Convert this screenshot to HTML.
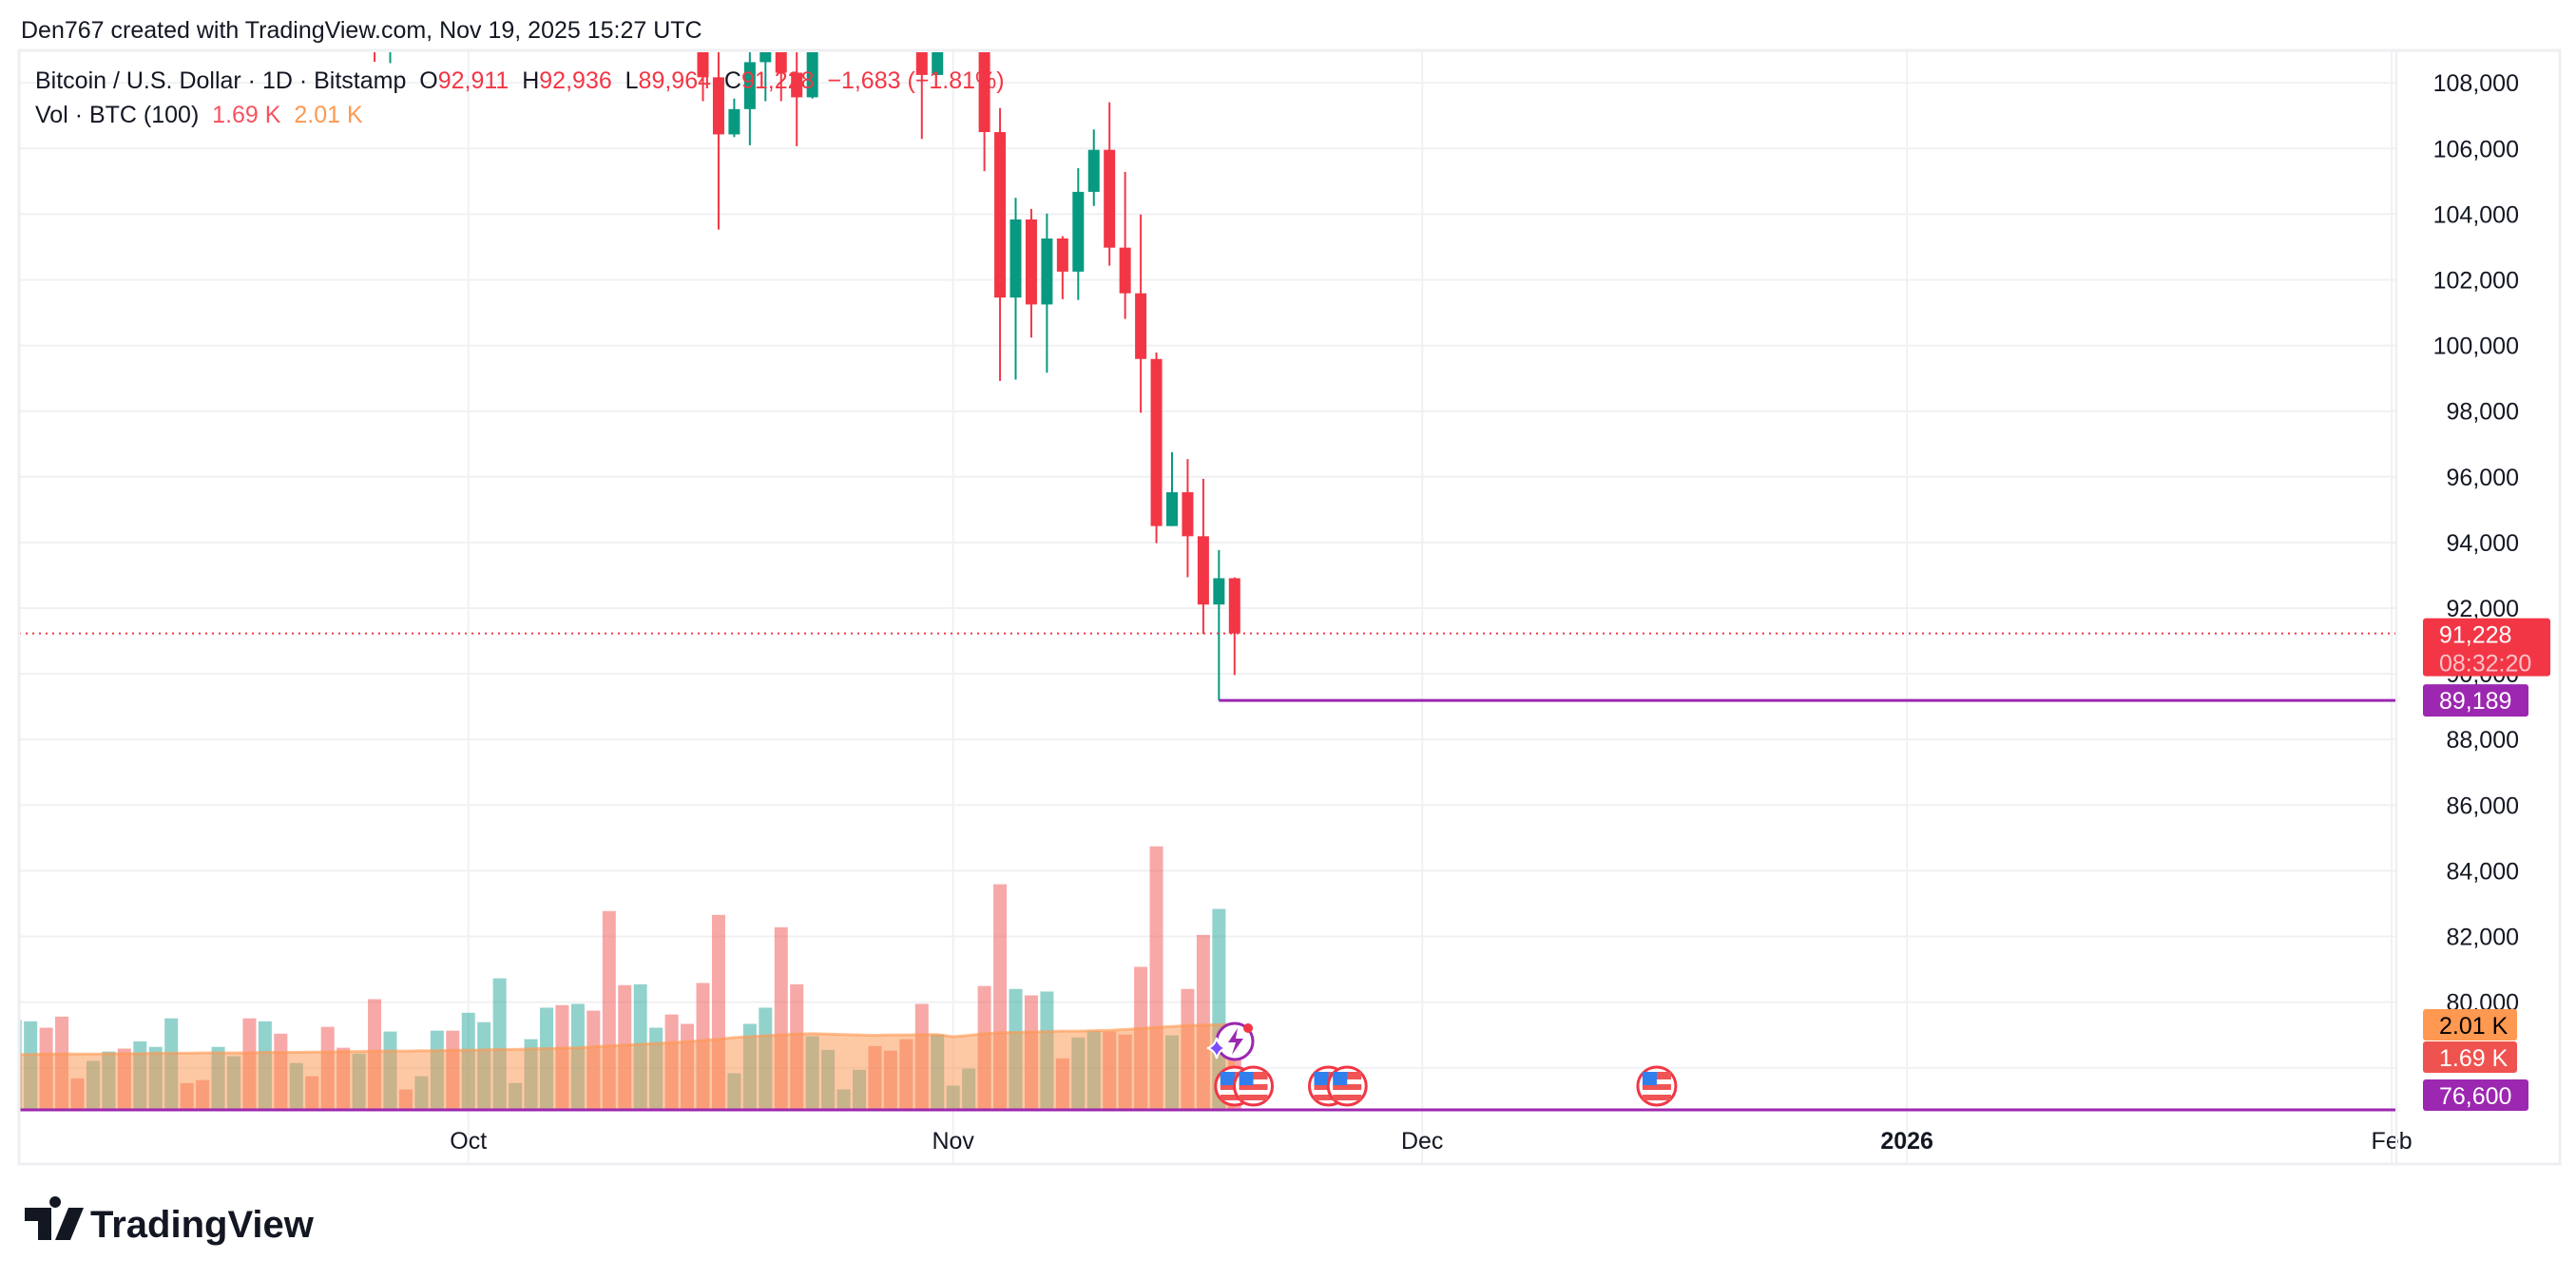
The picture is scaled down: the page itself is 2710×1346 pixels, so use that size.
<!DOCTYPE html>
<html><head><meta charset="utf-8"><style>
html,body{margin:0;padding:0;background:#fff;}
svg{display:block;font-family:"Liberation Sans",sans-serif;}
</style></head><body>
<svg id="chart" xmlns="http://www.w3.org/2000/svg" width="2710" height="1346" viewBox="0 0 2710 1346">
<defs><clipPath id="plotClip"><rect x="21" y="55" width="2500" height="1170"/></clipPath></defs>
<rect x="0" y="0" width="2710" height="1346" fill="#fff"/>
<text x="22" y="40" font-size="25" fill="#131722">Den767 created with TradingView.com, Nov 19, 2025 15:27 UTC</text>
<g id="grid"></g>
<g id="vol" clip-path="url(#plotClip)"></g>
<g id="candles" clip-path="url(#plotClip)"></g>
<g id="lines"></g>
<g id="axis"></g>
<g id="taxis"></g>
<rect x="20" y="53" width="2673" height="1172" fill="none" stroke="#eeeff2" stroke-width="3"/>
<line x1="2521" y1="53" x2="2521" y2="1225" stroke="#eeeff2" stroke-width="2"/>
<g font-size="25" xml:space="preserve" style="white-space:pre">
<text x="37" y="93" fill="#131722" xml:space="preserve">Bitcoin / U.S. Dollar · 1D · Bitstamp  O<tspan fill="#f23645">92,911</tspan>  H<tspan fill="#f23645">92,936</tspan>  L<tspan fill="#f23645">89,964</tspan>  C<tspan fill="#f23645">91,228</tspan>  <tspan fill="#f23645">−1,683 (−1.81%)</tspan></text>
<text x="37" y="129" fill="#131722" xml:space="preserve">Vol · BTC (100)  <tspan fill="#f7525f">1.69 K</tspan>  <tspan fill="#ff9850">2.01 K</tspan></text>
</g>
<g id="icons"></g>
<g>
<path d="M26 1271 h28 v34 h-14 v-20 h-14 z M58 1271 a6 6 0 1 1 0.1 0 z M72 1271 h16 l-14 34 h-16 z" fill="#131722"/>
<text x="95" y="1302" font-size="40" font-weight="bold" fill="#131722">TradingView</text>
</g>
</svg>
<script>
// ---- data ----
const candleStartDay = -37; // Sep 25 (day index relative to Nov 1)
const opens  = [113000,109000,109700,109600,112100,114300,113300,118500,120500,122200,122300,123500,124700,121400,123300,121700,113200,110600,115100,115200,113100,110800,108170,106430,107200,108630,110500,108310,107560,110000,111000,111600,114500,114100,112900,110000,108240,109600,110100,110500,106500,101460,103840,101250,103260,102250,104680,105960,102980,101590,99590,94500,95530,94190,92110,92911];
const highs  = [113400,110300,110000,112300,114400,114800,118600,121000,123900,122900,125700,126200,125100,124100,123700,122500,113500,115800,116000,115500,113600,111900,109200,107520,109400,111700,114000,109000,111000,112000,111900,115000,116400,116000,113600,111500,110000,110500,111200,110800,107230,104500,104160,104020,103330,105400,106580,107410,105290,103990,99790,96750,96540,95940,93770,92936];
const lows   = [108640,108600,109200,109300,111500,112600,113000,117900,119300,121600,121800,123000,120600,121000,119600,109500,109700,109600,113000,110000,110200,107440,103530,106350,106100,107440,107440,106070,107520,109600,110600,111300,113800,112200,109700,106290,108240,109400,109300,105310,98920,98960,100240,99170,101410,101390,104250,102430,100810,97950,93980,94500,92940,91210,89189,89964];
const closes = [109000,109700,109600,112100,114300,113300,118500,120500,122200,122300,123500,124700,121400,123300,121700,113200,110600,115100,115200,113100,110800,108170,106430,107200,108630,110500,108310,107560,110000,111000,111600,114500,114100,112900,110000,108240,109600,110100,110500,106500,101460,103840,101250,103260,102250,104680,105960,102980,101590,99590,94500,95530,94190,92110,92911,91228];
const volStartDay = -60;
const volumes = [2.11,2.08,1.93,2.19,0.74,1.15,1.37,1.44,1.61,1.48,2.15,0.63,0.70,1.48,1.26,2.15,2.08,1.79,1.10,0.79,1.95,1.46,1.32,2.60,1.84,0.48,0.79,1.86,1.86,2.28,2.06,3.09,0.63,1.66,2.40,2.46,2.49,2.33,4.67,2.93,2.95,1.93,2.24,2.02,2.98,4.58,0.86,2.02,2.40,4.29,2.95,1.73,1.41,0.48,0.94,1.50,1.39,1.66,2.49,1.77,0.57,0.97,2.91,5.30,2.84,2.69,2.78,1.21,1.70,1.86,1.84,1.77,3.36,6.19,1.75,2.84,4.11,4.72,1.69];
const volUp = [1,1,0,0,0,1,1,0,1,1,1,0,0,1,1,0,1,0,1,0,0,0,1,0,1,0,1,1,0,1,1,1,1,1,1,0,1,0,0,0,1,1,0,0,0,0,1,1,1,0,0,1,1,1,1,0,0,0,0,1,1,1,0,0,1,0,1,0,1,1,0,0,0,0,1,0,0,1,0];
const volMA = [1.30,1.30,1.31,1.31,1.31,1.31,1.32,1.32,1.32,1.33,1.33,1.33,1.34,1.34,1.34,1.34,1.35,1.35,1.35,1.36,1.36,1.37,1.37,1.38,1.38,1.38,1.39,1.39,1.40,1.40,1.41,1.42,1.42,1.43,1.44,1.45,1.46,1.48,1.50,1.52,1.54,1.56,1.58,1.60,1.63,1.66,1.70,1.72,1.74,1.76,1.78,1.79,1.78,1.77,1.76,1.75,1.76,1.76,1.77,1.77,1.72,1.75,1.79,1.81,1.82,1.83,1.84,1.85,1.85,1.86,1.87,1.89,1.91,1.94,1.96,1.98,1.99,2.00,2.01];
const priceTicks = [108000,106000,104000,102000,100000,98000,96000,94000,92000,90000,88000,86000,84000,82000,80000];
const gridPrices = [108000,106000,104000,102000,100000,98000,96000,94000,92000,90000,88000,86000,84000,82000,80000,78000];
const timeLabels = ["Oct","Nov","Dec","2026","Feb"];
const timeDays = [-31,0,30,61,92];
const lastPrice = 91228;
const lowLinePrice = 89189;
const lowLineDay = 17;
const bottomLinePrice = 76600;
const flagDays = [18,19.2,24,25.2,45];

// ---- scales ----
const NS = "http://www.w3.org/2000/svg";
function xOf(d){ return 1002.7 + d*16.45; }
function yP(p){ return 87.2 + (108000-p)*0.03455; }
function yV(v){ return 1168 - v*44.8; }
function mk(tag, attrs, parent){
  const e = document.createElementNS(NS, tag);
  for (const k in attrs) e.setAttribute(k, attrs[k]);
  parent.appendChild(e); return e;
}
const grid = document.getElementById('grid');
const vol = document.getElementById('vol');
const cg = document.getElementById('candles');
const lines = document.getElementById('lines');
const axis = document.getElementById('axis');
const taxis = document.getElementById('taxis');
const icons = document.getElementById('icons');

gridPrices.forEach(p=>{
  const l = mk('line',{x1:20,x2:2521,y1:yP(p),y2:yP(p),stroke:'#f0f1f3','stroke-width':2},grid);
  
  
});
timeDays.forEach(d=>{
  const l = mk('line',{x1:xOf(d),x2:xOf(d),y1:53,y2:1225,stroke:'#f0f1f3','stroke-width':2},grid);
  
  
});

volumes.forEach((v,i)=>{
  const x = xOf(volStartDay+i);
  const r = mk('rect',{x:x-7,y:yV(v),width:14,height:1168-yV(v),fill:volUp[i]?'rgba(38,166,154,0.5)':'rgba(239,83,80,0.5)'},vol);
  
  
});
let pts = volMA.map((v,i)=>xOf(volStartDay+i)+','+yV(v));
const area = mk('polygon',{points: xOf(volStartDay)+',1168 '+pts.join(' ')+' '+xOf(volStartDay+volMA.length-1)+',1168', fill:'rgba(251,147,75,0.5)'},vol);


const maLine = mk('polyline',{points:pts.join(' '),fill:'none',stroke:'rgba(255,152,80,0.6)','stroke-width':3},vol);



opens.forEach((o,i)=>{
  const c = closes[i], h = highs[i], lo = lows[i];
  const x = xOf(candleStartDay+i);
  const col = c>=o ? '#089981' : '#f23645';
  const w = mk('line',{x1:x,x2:x,y1:yP(h),y2:yP(lo),stroke:col,'stroke-width':2},cg);
  
  
  const top = yP(Math.max(o,c)), bot = yP(Math.min(o,c));
  const b = mk('rect',{x:x-6,y:top,width:12,height:Math.max(1,bot-top),fill:col},cg);
  
  
});

const lp = mk('line',{x1:20,x2:2521,y1:yP(lastPrice),y2:yP(lastPrice),stroke:'#f23645','stroke-width':2,'stroke-dasharray':'2 5'},lines);


const ll = mk('line',{x1:xOf(lowLineDay),x2:2521,y1:yP(lowLinePrice),y2:yP(lowLinePrice),stroke:'#9c27b0','stroke-width':3},lines);


const bl = mk('line',{x1:20,x2:2521,y1:1168,y2:1168,stroke:'#9c27b0','stroke-width':3},lines);



priceTicks.forEach(p=>{
  const t = mk('text',{x:2650,y:yP(p)+9,'text-anchor':'end','font-size':25,fill:'#131722'},axis);
  t.textContent = p.toLocaleString('en-US');
  
  
});
function tag(y1,y2,x2,fill,lines_,colors,name){
  const r = mk('rect',{x:2549,y:y1,width:x2-2549,height:y2-y1,rx:3,fill:fill},axis);
  
  
  lines_.forEach((s,k)=>{
    const t = mk('text',{x:2566,y:y1+26+k*30,'font-size':25,fill:colors[k]},axis);
    t.textContent = s;
    
    
  });
}
tag(yP(lastPrice)-16,yP(lastPrice)+45,2683,'#f23645',[lastPrice.toLocaleString('en-US'),'08:32:20'],['#fff','#fbc1c7'],'last-price-tag');
tag(yP(lowLinePrice)-17,yP(lowLinePrice)+17,2660,'#9c27b0',[lowLinePrice.toLocaleString('en-US')],['#fff'],'low-price-tag');
tag(1062,1095,2648,'#ff9850',['2.01 K'],['#000'],'volume-ma-tag');
tag(1096,1129,2648,'#ef5350',['1.69 K'],['#fff'],'volume-tag');
tag(1136,1169,2660,'#9c27b0',[bottomLinePrice.toLocaleString('en-US')],['#fff'],'bottom-price-tag');

timeLabels.forEach((s,i)=>{
  const t = mk('text',{x:xOf(timeDays[i]),y:1209,'text-anchor':'middle','font-size':25,fill:'#131722','font-weight':s==='2026'?'bold':'normal'},taxis);
  t.textContent = s;
  
  
});

flagDays.forEach(d=>{
  const cx = xOf(d), cy = 1143;
  const g = mk('g',{},icons);
  
  
  mk('circle',{cx:cx,cy:cy,r:20,fill:'#fff',stroke:'#f23645','stroke-width':3},g);
  mk('rect',{x:cx-15,y:cy-15,width:30,height:8,fill:'#f05454'},g);
  mk('rect',{x:cx-15,y:cy-2,width:30,height:6,fill:'#f05454'},g);
  mk('rect',{x:cx-15,y:cy+9,width:30,height:6,fill:'#f05454'},g);
  mk('rect',{x:cx-15,y:cy-15,width:15,height:14,fill:'#2f80ed'},g);
});
const lg = mk('g',{},icons);


mk('circle',{cx:1299,cy:1096,r:19,fill:'#fff',stroke:'#9c27b0','stroke-width':3},lg);
mk('path',{d:'M1302 1082 l-10 15 h8 l-4 13 l12 -17 h-8 z',fill:'#9c27b0'},lg);
mk('circle',{cx:1313,cy:1082,r:5,fill:'#f23645'},lg);
mk('path',{d:'M1280 1092 q2 9 10 11 q-8 2 -10 11 q-2 -9 -10 -11 q8 -2 10 -11 z',fill:'#7c4dff',stroke:'#fff','stroke-width':2},lg);
</script>
</body></html>
